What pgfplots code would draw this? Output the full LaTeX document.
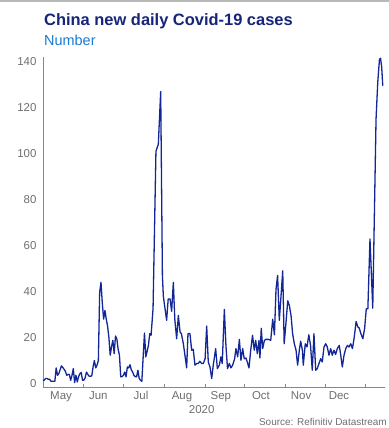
\documentclass[border=0pt]{standalone}
\usepackage{fontspec}
\setmainfont{Liberation Sans}
\usepackage{pgfplots}
\pgfplotsset{compat=1.18}
\definecolor{linecol}{RGB}{18,38,150}
\definecolor{titlecol}{RGB}{22,36,122}
\definecolor{subcol}{RGB}{22,122,212}
\definecolor{axgray}{RGB}{135,135,135}
\definecolor{txtgray}{RGB}{110,110,110}
\begin{document}
\begin{tikzpicture}
\begin{axis}[
  at={(0,0)}, anchor=south west, scale only axis,
  width=342bp, height=330bp,
  xmin=0, xmax=259.5, ymin=-1.5, ymax=142,
  axis x line*=bottom, axis y line*=left,
  axis line style={axgray, line width=0.8bp},
  ytick={0,20,40,60,80,100,120,140},
  ytick style={draw=none},
  yticklabel style={font=\fontsize{11.5}{13}\selectfont, text=txtgray, xshift=-3bp},
  xtick={0,31,61,92,123,153,184,214,245},
  xticklabels={},
  tick align=inside,
  major tick length=3bp,
  xtick style={axgray, line width=0.8bp},
  extra x ticks={13.7,42,74.4,105.5,135,165.4,195.8,224.6},
  extra x tick labels={May,Jun,Jul,Aug,Sep,Oct,Nov,Dec},
  extra x tick style={major tick length=0pt, xtick style={draw=none}},
  xticklabel style={font=\fontsize{11.5}{13}\selectfont, text=txtgray, yshift=-1bp},
  /pgf/number format/assume math mode=true,
  clip=false,
]
\addplot[linecol, line width=1.3bp, line join=round] coordinates {
(0,1.3)(1,1.5)(2,2.2)(3,2.2)(4,1.9)(5,1.9)(6,1)(7,1)(8,1)(9,1)
(10,6.8)(11,3.6)(12,4.3)(13,6)(14,7.7)(15,7)(16,6.2)(17,5.3)(18,3.6)(19,4)
(20,3.9)(21,1.4)(22,3.6)(23,6.5)(24,0.4)(25,3.6)(26,0.7)(27,3)(28,4.3)(29,4.8)
(30,1.4)(31,1.5)(32,2.5)(33,5)(34,4)(35,3.2)(36,3.2)(37,3.3)(38,7.2)(39,10)
(40,6.8)(41,8)(42,10)(43,39.7)(44,44)(45,35)(46,28)(47,31.8)(48,28)(49,25)
(50,20)(51,12.3)(52,16)(53,18.8)(54,13)(55,20.7)(56,19.5)(57,15)(58,12.3)(59,2.9)
(60,3)(61,3.6)(62,5)(63,2.9)(64,7.2)(65,6.8)(66,8.2)(67,6)(68,5)(69,3.6)
(70,3)(71,2.9)(72,5.8)(73,2.2)(74,1.4)(75,1)(76,11.6)(77,22)(78,11.6)(79,14)
(80,16.6)(81,21.7)(82,21)(83.5,32.5)(85.7,101)(87.5,104)(89.3,127)(90.6,47)(91.3,38)
(93.8,27.5)(95,36.8)(96.4,36.8)(97.6,31.4)(98.9,44)(100,28)(101.4,19.5)(102.7,29.6)(104,22.4)(105,21.7)
(106.5,17.3)(107.7,12.3)(109,6.8)(110,21.7)(111.5,21.7)(112.8,14.5)(114,14.9)(115.3,8)(116.6,8.7)(117.8,8.7)
(119,9.7)(120.4,8.7)(121.6,8.7)(123,10.8)(124.2,25)(125.4,9.4)(126.7,7.2)(128,2.2)(129.2,8)(131,15.2)
(132.3,6.5)(133.8,8)(135,11.6)(136,8.7)(137.6,32.2)(138.8,16.6)(140,6.5)(141.4,8.7)(142.6,6.8)(143.9,8)
(145.4,10.8)(146.4,15.2)(147.7,11.6)(149,19.2)(150.2,10.1)(151.5,15.2)(152.7,10.8)(154,11.1)(155,9.4)(156.3,6.8)
(157.6,14.5)(159,21)(160.3,14.5)(161.4,18.8)(162.6,13)(163.9,18.8)(164.6,11.1)(165.6,24)(166.7,15.2)(168,18.8)
(169.2,19.2)(171,19.2)(172.8,18.8)(174.3,28)(175.6,21.2)(176.8,41)(178,47)(179.3,27.5)(180.6,38)(181.9,49)
(183,17.3)(184.4,26.7)(185.7,36)(186.9,34)(188.2,29.6)(189.4,21.7)(190.7,17.3)(192,14.5)(193.2,8)(194.5,14.5)
(195.5,18.4)(196.8,14.5)(197.5,8)(199,17.3)(200.3,15.9)(201.7,21.2)(203,16.6)(204.3,5.8)(205.6,21.7)(206.9,5.8)
(208.1,6.5)(209.4,8.7)(210.7,10.8)(211.9,9.4)(213.2,15.9)(214.5,17.3)(215.7,15.9)(217,12.3)(218.3,15.2)(219.5,12.3)
(220.8,14.5)(222,12.6)(223.3,15.2)(224.8,16.6)(226,12)(227.1,7.2)(228.4,12.3)(229.7,15.2)(231,16.6)(232.2,15.9)
(233.5,17.3)(234.8,15.2)(236,19.5)(237.6,27)(238.9,24.6)(239.9,24.2)(241.2,21.7)(242.7,19.5)(244,23.8)(245.3,32.5)
(246.5,32.5)(248.1,62.9)(250.2,32.8)(252.7,115)(254,131)(255.3,141)(256.1,141.5)(257,137.5)(257.8,129.5)
};
\end{axis}
\pgfresetboundingbox
\begin{scope}[x=1bp,y=1bp,shift={(-43bp,-41bp)}]
\path[use as bounding box] (0,0) rectangle (389,428);
\draw[gray!55, line width=1.2bp] (0,427) -- (389,427);
\node[anchor=base west, font=\fontsize{16.5}{18}\selectfont\bfseries, text=titlecol, inner sep=0] at (44,403) {China new daily Covid-19 cases};
\node[anchor=base west, font=\fontsize{14.5}{16}\selectfont, text=subcol, inner sep=0] at (44,383) {Number};
\node[anchor=base east, font=\fontsize{10}{12}\selectfont, text=txtgray, inner sep=0] at (387,2.5) {Source: Refinitiv Datastream};
\node[anchor=base, font=\fontsize{11.5}{13}\selectfont, text=txtgray, inner sep=0] at (201.7,15) {2020};
\end{scope}
\end{tikzpicture}
\end{document}
